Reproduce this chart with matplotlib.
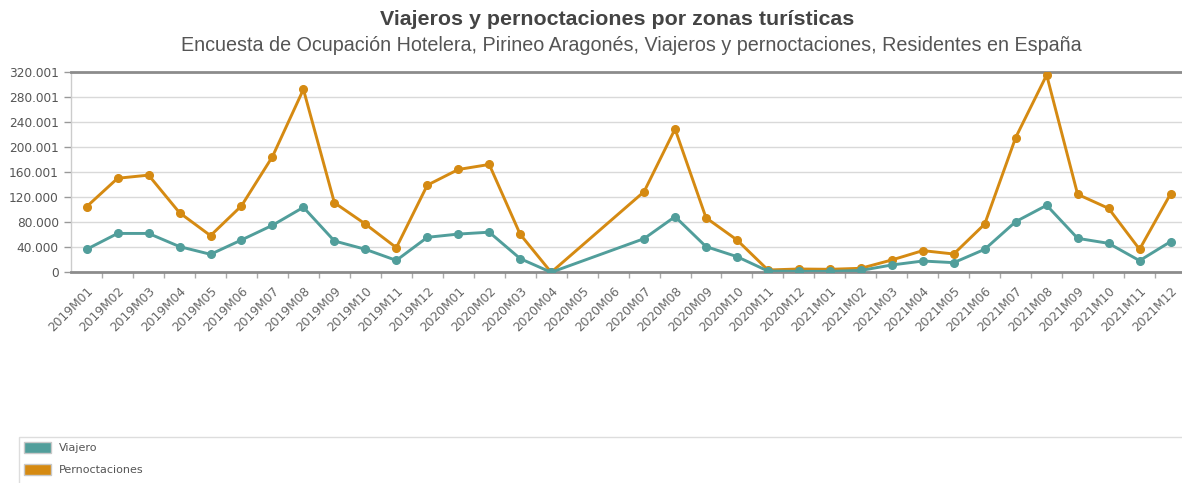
import numpy as np
import pandas as pd
import matplotlib
matplotlib.use("Agg")
import matplotlib.pyplot as plt
from matplotlib.patches import Patch, Rectangle

# periods on the x axis
periodos = [f"{y}M{m:02d}" for y in (2019, 2020, 2021) for m in range(1, 13)]

# values (None = no data, line jumps over it)
viajero = [36700, 62000, 62000, 41000, 28700, 51600, 75000, 103700, 50000, 36700, 19000, 55800,
           61000, 64000, 21800, 0, None, None, 53700, 88800, 41000, 25000, 2000, 1500,
           1500, 3000, 11700, 18000, 15400, 36700, 80800, 106900, 54200, 46200, 18600, 48900]
pernoctaciones = [104700, 150000, 155000, 95000, 58500, 106000, 184500, 291800, 111000, 77000, 39300, 139000,
                  164000, 172000, 60600, 0, None, None, 128600, 228600, 87000, 51600, 3700, 5300,
                  4800, 6400, 19700, 34600, 29200, 77000, 215000, 314700, 124400, 102000, 36700, 125000]

y_ticks = [0, 40000, 80000, 120000, 160001, 200001, 240001, 280001, 320001]
y_labels = ["0", "40.000", "80.000", "120.000", "160.001", "200.001", "240.001", "280.001", "320.001"]

c_viajero = "#519e9b"
c_pernoct = "#d58a12"

plt.rcParams['font.family'] = ['Liberation Sans', 'DejaVu Sans']

fig = plt.figure(figsize=(11.82, 4.83), dpi=100)
ax = fig.add_axes([0.0602, 0.4362, 0.9432, 0.4154])

x = np.arange(len(periodos))
for serie, col in ((pernoctaciones, c_pernoct), (viajero, c_viajero)):
    s = pd.Series(serie, index=x, dtype=float).dropna()
    ax.plot(s.index, s.values, color=col, lw=2.1, marker="o", ms=5.5,
            mfc=col, mec=col, zorder=3)

ax.set_xlim(-0.5, len(periodos) - 0.5)
ax.set_ylim(0, 320001)

ax.set_yticks(y_ticks)
ax.set_yticklabels(y_labels, family="DejaVu Sans")
ax.yaxis.grid(True, color="#d9d9d9", lw=1)
ax.set_axisbelow(True)
ax.tick_params(axis="y", length=5, width=1, color="#999999", pad=4,
               labelsize=8.7, labelcolor="#555555")

ax.set_xticks(x)
ax.set_xticklabels(periodos, rotation=45, ha="right", rotation_mode="anchor",
                   fontsize=8.8, color="#666666", family="DejaVu Sans")
ax.set_xticks(x[:-1] + 0.5, minor=True)
ax.tick_params(axis="x", which="major", length=0, pad=9)
ax.tick_params(axis="x", which="minor", length=4, width=1, color="#aaaaaa")

for side in ("top", "bottom"):
    ax.spines[side].set_color("#8c8c8c")
    ax.spines[side].set_linewidth(2)
ax.spines["left"].set_color("#cccccc")
ax.spines["left"].set_linewidth(1)
ax.spines["right"].set_visible(False)

fig.text(0.522, 0.960, "Viajeros y pernoctaciones por zonas turísticas",
         ha="center", va="center", fontsize=15.4, fontweight="bold", color="#444444")
fig.text(0.534, 0.905, "Encuesta de Ocupación Hotelera, Pirineo Aragonés, Viajeros y pernoctaciones, Residentes en España",
         ha="center", va="center", fontsize=14.2, color="#555555")

# legend box across the bottom
fig.patches.append(Rectangle((0.016, -0.05), 1.0, 0.145, transform=fig.transFigure,
                             fill=False, edgecolor="#dddddd", lw=1))
handles = [Patch(facecolor=c_viajero, edgecolor="#c8c8c8"),
           Patch(facecolor=c_pernoct, edgecolor="#c8c8c8")]
fig.legend(handles, ["Viajero", "Pernoctaciones"], loc="lower left",
           bbox_to_anchor=(0.012, -0.005), frameon=False,
           prop={"family": "DejaVu Sans", "size": 8},
           labelcolor="#555555", handlelength=2.4, handleheight=1.15,
           handletextpad=0.7, labelspacing=1.0)

fig.savefig("out.png", dpi=100)
